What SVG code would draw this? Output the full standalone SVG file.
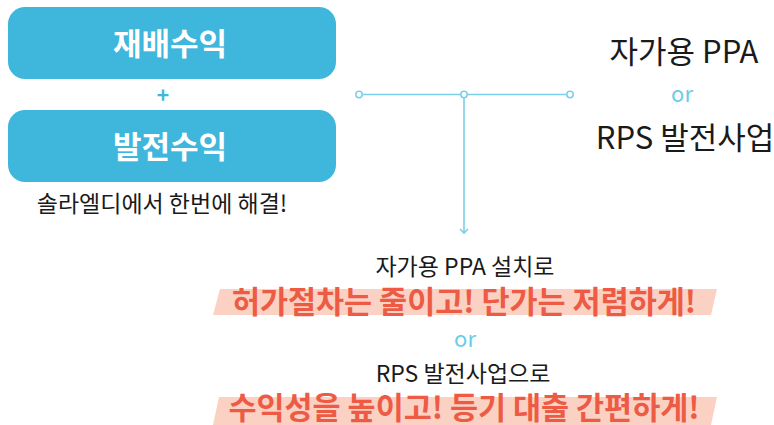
<svg xmlns="http://www.w3.org/2000/svg" width="774" height="425" viewBox="0 0 774 425">
<defs>
<style>
.kr{font-family:"Noto Sans CJK KR","Noto Sans",sans-serif}
.box{fill:#3fb6dc}
.btxt{fill:#ffffff;font-size:31px;font-weight:700;text-anchor:middle}
.dark{fill:#1a1a1a;text-anchor:middle}
.or{fill:#6ccbe8;text-anchor:middle}
.band{fill:#fbd1c3}
.red{fill:#ee5b45;font-weight:700;font-size:30.5px;text-anchor:middle}
.conn{stroke:#7ccfea;stroke-width:1.6;fill:none}
.dot{stroke:#7ccfea;stroke-width:1.5;fill:#ffffff}
</style>
</defs>
<rect width="774" height="425" fill="#ffffff"/>
<g id="node-jaebae">
<rect class="box" x="8" y="7" width="328" height="72" rx="17"/>
<text class="kr btxt" x="170" y="55">재배수익</text>
</g>
<g id="node-plus">
<text class="kr" x="163" y="103" fill="#3fb6dc" font-size="21" font-weight="700" text-anchor="middle">+</text>
</g>
<g id="node-baljeon">
<rect class="box" x="8" y="110" width="328" height="72" rx="17"/>
<text class="kr btxt" x="170" y="158">발전수익</text>
</g>
<g id="node-caption">
<text class="kr dark" x="162" y="212" font-size="23">솔라엘디에서 한번에 해결!</text>
</g>
<g id="node-options">
<text class="kr dark" x="684" y="63" font-size="31">자가용 PPA</text>
<text class="kr or" x="682" y="102" font-size="22">or</text>
<text class="kr dark" x="685" y="149" font-size="31">RPS 발전사업</text>
</g>
<g id="connectors">
<line class="conn" x1="362" y1="94.5" x2="461" y2="94.5"/>
<line class="conn" x1="467" y1="94.5" x2="567" y2="94.5"/>
<line class="conn" x1="464" y1="98" x2="464" y2="233"/>
<path class="conn" d="M460,229 L464,233 L468,229"/>
<circle class="dot" cx="359" cy="94.5" r="3.2"/>
<circle class="dot" cx="464" cy="94.5" r="3.2"/>
<circle class="dot" cx="570" cy="94.5" r="3.2"/>
</g>
<g id="node-result1">
<text class="kr dark" x="465" y="275" font-size="23">자가용 PPA 설치로</text>
<polygon class="band" points="220,289 717,289 711,315 213,315"/>
<text class="kr red" x="464" y="313">허가절차는 줄이고! 단가는 저렴하게!</text>
</g>
<g id="node-or2">
<text class="kr or" x="465" y="347" font-size="22">or</text>
</g>
<g id="node-result2">
<text class="kr dark" x="463" y="382" font-size="23">RPS 발전사업으로</text>
<polygon class="band" points="219,397 717,397 711,425 213,425"/>
<text class="kr red" x="464" y="419">수익성을 높이고! 등기 대출 간편하게!</text>
</g>
</svg>
